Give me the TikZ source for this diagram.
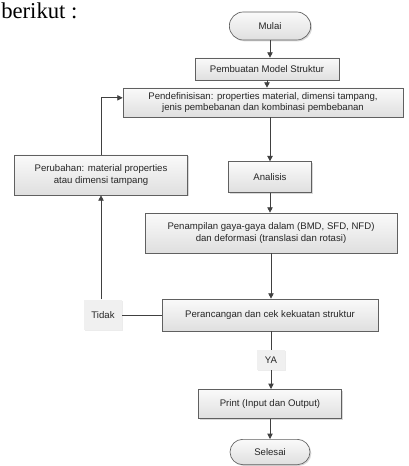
\documentclass[tikz,border=0pt]{standalone}
\usepackage{fontspec}
\setmainfont{Liberation Sans}
\newfontfamily\pageserif{Liberation Serif}
\usetikzlibrary{arrows.meta, shadows, shapes.misc}

\begin{document}
\begin{tikzpicture}[
    x=0.75pt, y=-0.75pt,
    box/.style={rectangle, draw=gray!75!black, line width=0.5pt, top color=gray!4, bottom color=gray!25,
        drop shadow={shadow xshift=1pt, shadow yshift=-1pt, opacity=0.3},
        align=center, inner sep=1pt, text=black!85, font=\fontsize{7.2}{8.9}\selectfont},
    term/.style={box, rounded rectangle},
    tag/.style={rectangle, fill=gray!12, inner sep=1pt, text=black!85, font=\fontsize{7.2}{8.9}\selectfont,
        drop shadow={shadow xshift=0.7pt, shadow yshift=-0.7pt, opacity=0.15}},
    arr/.style={-{Triangle[length=4pt, width=4pt]}, draw=black!75, line width=0.6pt},
    ln/.style={draw=black!75, line width=0.6pt}
]
    \useasboundingbox (0,0) rectangle (409,466);
    \node[anchor=base west, font=\pageserif\fontsize{17}{19}\selectfont, inner sep=0pt] (lead) at (1,18.5) {berikut :};

    % kolom utama
    \node[term, minimum width=63pt, minimum height=21pt] (mulai) at (270,26) {Mulai};
    \node[box, minimum width=108pt, minimum height=16.5pt] (model) at (267,69) {Pembuatan Model Struktur};
    \node[box, minimum width=210pt, minimum height=21.75pt] (definisi) at (263,102.5)
        {Pendefinisisan: properties material, dimensi tampang,\\jenis pembebanan dan kombinasi pembebanan};
    \node[box, minimum width=62pt, minimum height=23pt] (analisis) at (270,177) {Analisis};
    \node[box, minimum width=189pt, minimum height=30pt] (gaya) at (271,233)
        {Penampilan gaya-gaya dalam (BMD, SFD, NFD)\\dan deformasi (translasi dan rotasi)};
    \node[box, minimum width=162pt, minimum height=24pt] (cek) at (270,315) {Perancangan dan cek kekuatan struktur};
    \node[tag, minimum width=21pt, minimum height=15pt] (ya) at (271,360) {YA};
    \node[box, minimum width=107pt, minimum height=22pt] (print) at (270,404) {Print (Input dan Output)};
    \node[term, minimum width=62pt, minimum height=19pt] (selesai) at (270,452) {Selesai};

    % jalur balik
    \node[box, minimum width=130pt, minimum height=30pt] (ubah) at (101,175)
        {Perubahan: material properties\\atau dimensi tampang};
    \node[tag, minimum width=28pt, minimum height=23pt] (tidak) at (103,315) {Tidak};

    \draw[arr] (mulai.south) -- (mulai.south |- model.north);
    \draw[arr] (model.south) -- (model.south |- definisi.north);
    \draw[arr] (analisis.north |- definisi.south) -- (analisis.north);
    \draw[arr] (analisis.south) -- (analisis.south |- gaya.north);
    \draw[arr] (gaya.south) -- (gaya.south |- cek.north);
    \draw[ln] (cek.south -| ya) -- (ya.north);
    \draw[arr] (ya.south) -- (ya.south |- print.north);
    \draw[arr] (print.south) -- (print.south |- selesai.north);

    \draw[ln] (cek.west) -- (cek.west -| tidak.east);
    \draw[arr] (tidak.north -| ubah) -- (ubah.south);
    \draw[arr] (ubah.north) |- ([yshift=3.5pt]definisi.west);
\end{tikzpicture}
\end{document}
